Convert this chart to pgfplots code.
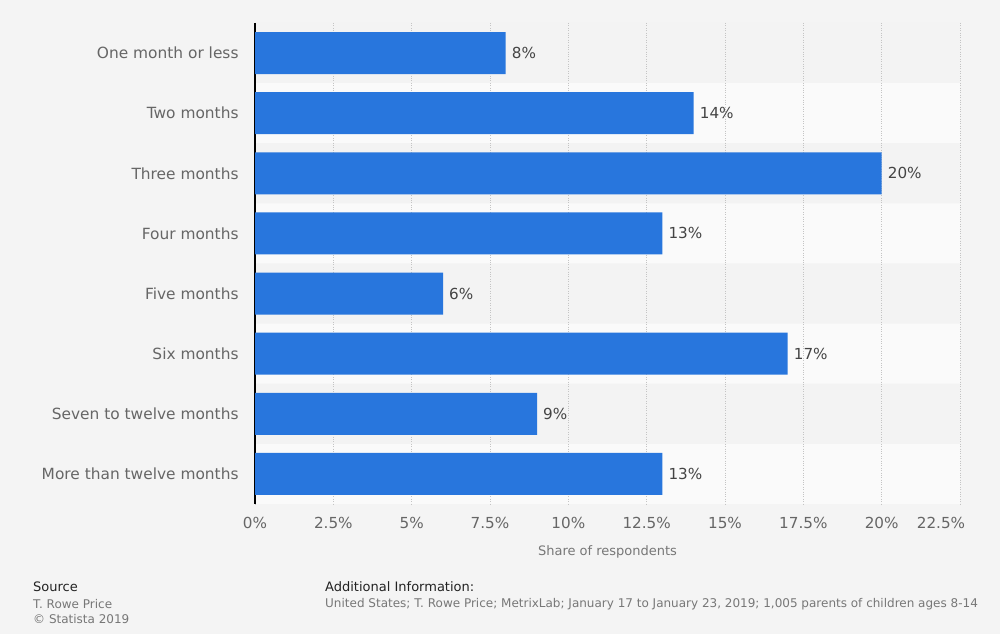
\documentclass[border=0pt]{standalone}
\usepackage{fontspec}
\setmainfont{DejaVu Sans}
\usepackage{xcolor}
\usepackage{pgfplots}
\pgfplotsset{compat=1.18}

\definecolor{bg}{HTML}{F4F4F4}
\definecolor{bandA}{HTML}{F3F3F3}
\definecolor{bandB}{HTML}{FAFAFA}
\definecolor{barblue}{HTML}{2876DD}
\definecolor{lab}{HTML}{666666}
\definecolor{val}{HTML}{444444}
\definecolor{gridc}{HTML}{C4C4C4}
\definecolor{head}{HTML}{222222}
\definecolor{foot}{HTML}{777777}
\pagecolor{bg}

\begin{document}
\begin{tikzpicture}
\path (0bp,0bp) rectangle (1000bp,634bp);

\begin{axis}[
  set layers,
  at={(255bp,130bp)}, anchor=south west,
  scale only axis, width=705bp, height=481bp,
  xbar, bar width=0.7, bar shift=0pt,
  xmin=0, xmax=22.5, ymin=-0.5, ymax=7.5, y dir=reverse,
  separate axis lines,
  axis x line*=bottom, axis y line*=left,
  x axis line style={draw=none},
  y axis line style={-, black, line width=1.3bp},
  /pgf/number format/assume math mode=true,
  xtick={0,2.5,...,22.5},
  xticklabels={0\%,2.5\%,5\%,7.5\%,10\%,12.5\%,15\%,17.5\%,20\%,\hspace*{-38bp}22.5\%},
  ytick={0,...,7},
  yticklabels={One month or less,Two months,Three months,Four months,Five months,Six months,Seven to twelve months,More than twelve months},
  tick style={draw=none},
  xmajorgrids,
  major grid style={gridc, dotted, line width=0.9bp},
  xticklabel style={font=\fontsize{15.2bp}{18bp}\selectfont, text=lab, anchor=north, inner sep=0pt, yshift=-13bp},
  yticklabel style={font=\fontsize{15.4bp}{18bp}\selectfont, text=lab, anchor=east, inner sep=0pt, xshift=-12bp},
  xlabel={Share of respondents},
  xlabel style={font=\fontsize{13bp}{16bp}\selectfont, text=foot, at={(axis description cs:0.5,0)}, anchor=north, inner sep=0pt, yshift=-41bp},
]
% row bands
\addplot[on layer=axis background, fill=bandA, draw=none, bar width=1]
  coordinates {(22.5,0) (22.5,2) (22.5,4) (22.5,6)};
\addplot[on layer=axis background, fill=bandB, draw=none, bar width=1]
  coordinates {(22.5,1) (22.5,3) (22.5,5) (22.5,7)};
% data
\addplot[fill=barblue, draw=none,
  nodes near coords={\pgfmathprintnumber{\pgfplotspointmeta}\%},
  nodes near coords style={font=\fontsize{15.2bp}{18bp}\selectfont, text=val, anchor=west, inner sep=0pt, xshift=6bp}]
  coordinates {(8,0) (14,1) (20,2) (13,3) (6,4) (17,5) (9,6) (13,7)};
\end{axis}

\node[anchor=west, inner sep=0pt, text=head, font=\fontsize{13bp}{16bp}\selectfont] at (33bp,47bp) {Source};
\node[anchor=west, inner sep=0pt, text=foot, font=\fontsize{12bp}{15bp}\selectfont] at (33bp,30bp) {T. Rowe Price};
\node[anchor=west, inner sep=0pt, text=foot, font=\fontsize{12bp}{15bp}\selectfont] at (33bp,15bp) {© Statista 2019};
\node[anchor=west, inner sep=0pt, text=head, font=\fontsize{13bp}{16bp}\selectfont] at (325bp,47bp) {Additional Information:};
\node[anchor=west, inner sep=0pt, text=foot, font=\fontsize{12bp}{15bp}\selectfont] at (325bp,30bp) {United States; T. Rowe Price; MetrixLab; January 17 to January 23, 2019; 1,005 parents of children ages 8-14};
\end{tikzpicture}
\end{document}
